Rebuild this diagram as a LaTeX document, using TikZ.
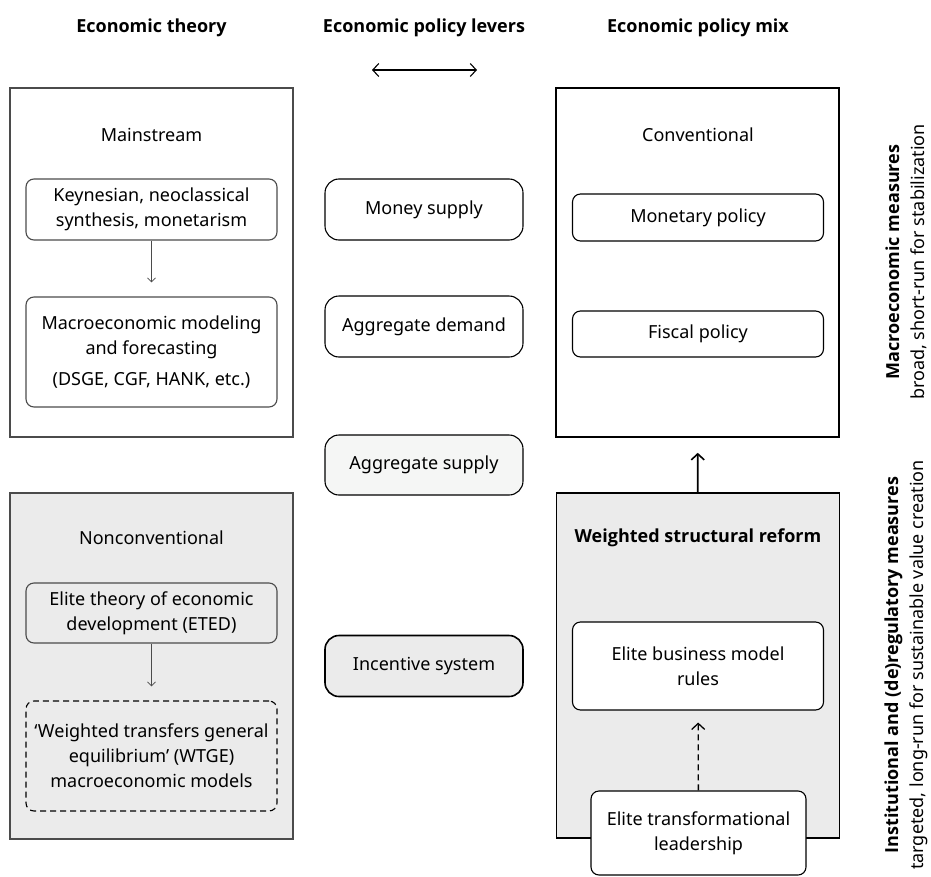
\documentclass[tikz,border=0pt]{standalone}
\usepackage{fontspec}
\setmainfont{Noto Sans}[BoldFont={Open Sans Bold}]
\usetikzlibrary{positioning, arrows.meta, calc}
\definecolor{reformgray}{RGB}{235,235,235}
\definecolor{supplygray}{RGB}{245,246,245}
\definecolor{framegray}{RGB}{75,75,75}
\tikzstyle{panel} = [draw, line width=1.6bp, minimum width=283bp, inner sep=0pt]
\tikzstyle{item} = [draw, rounded corners=8bp, line width=1.1bp, minimum width=251bp, align=center, inner sep=0pt]
\tikzstyle{lever} = [draw, rounded corners=14bp, line width=1.1bp, minimum width=198bp, minimum height=61bp, inner sep=0pt]
\tikzstyle{heading} = [font=\bfseries]
\tikzstyle{longdash} = [dash pattern=on 6bp off 4bp]
\tikzstyle{thinarrow} = [-{Straight Barb[length=4bp,width=8bp]}, line width=0.8bp, framegray]
\tikzstyle{arrow} = [-{Straight Barb[length=6bp,width=13bp]}, line width=1.6bp]
\tikzstyle{side} = [rotate=90, align=center]

\begin{document}
\fontsize{18bp}{25bp}\selectfont
\begin{tikzpicture}[x=1bp, y=-1bp]
\useasboundingbox (0,0) rectangle (931,877);

% Column headings
\node[heading] (theory) at (151.5,28) {Economic theory};
\node[heading] (levers) at (424,28) {Economic policy levers};
\node[heading] (mix) at (698,28) {Economic policy mix};
\coordinate (leftend) at (372,70);
\coordinate (rightend) at (477,70);
\draw[{Straight Barb[length=6bp,width=13bp]}-{Straight Barb[length=6bp,width=13bp]}, line width=1.1bp] (leftend) -- (rightend);

% Economic theory
\node[panel, framegray, minimum height=349bp] (mainstream) at (151.5,262.5) {};
\node (mainlabel) at (151.5,135) {Mainstream};
\node[item, framegray, text=black, minimum height=61bp] (keynes) at (151.5,209.5) {Keynesian, neoclassical\\synthesis, monetarism};
\node[item, framegray, text=black, minimum height=110bp] (modeling) at (151.5,352) {Macroeconomic modeling\\and forecasting\\[6bp](DSGE, CGF, HANK, etc.)};
\draw[thinarrow, shorten >=14bp] (keynes) -- (modeling);

\node[panel, framegray, fill=reformgray, minimum height=346bp] (nonconv) at (151.5,666) {};
\node (nonconvlabel) at (151.5,538) {Nonconventional};
\node[item, framegray, text=black, minimum height=60bp] (eted) at (151.5,613) {Elite theory of economic\\development (ETED)};
\node[item, longdash, text=black, minimum height=110bp] (wtge) at (151.5,756) {‘Weighted transfers general\\equilibrium’ (WTGE)\\macroeconomic models};
\draw[thinarrow, shorten >=14bp] (eted) -- (wtge);

% Economic policy levers
\node[lever] (money) at (424,209.5) {Money supply};
\node[lever] (demand) at (424,326.5) {Aggregate demand};
\node[lever, fill=supplygray, minimum height=60bp] (supply) at (424,465) {Aggregate supply};
\node[lever, fill=reformgray, line width=1.6bp] (incentive) at (424,666) {Incentive system};

% Economic policy mix
\node[panel, minimum height=349bp] (conventional) at (697.5,262.5) {};
\node (convlabel) at (698,135) {Conventional};
\node[item, minimum height=47bp] (monetary) at (698,217.5) {Monetary policy};
\node[item, minimum height=46bp] (fiscal) at (698,334) {Fiscal policy};

\node[panel, fill=reformgray, minimum height=345bp] (reform) at (698,665.5) {};
\node[heading] (reformlabel) at (698,538) {Weighted structural reform};
\node[item, fill=white, minimum height=88bp] (rules) at (698,666) {Elite business model\\rules};
\node[item, fill=white, minimum width=215bp, minimum height=84bp] (leadership) at (698.5,833) {Elite transformational\\leadership};
\draw[arrow, shorten >=15bp] (reform) -- (conventional);
\draw[arrow, longdash, line width=1.3bp, shorten >=12bp] (leadership) -- (rules);

% Side labels
\node[side] (shortrun) at (906,262) {{\bfseries Macroeconomic measures}\\broad, short-run for stabilization};
\node[side] (longrun) at (906,665) {{\bfseries Institutional and (de)regulatory measures}\\targeted, long-run for sustainable value creation};
\end{tikzpicture}
\end{document}
